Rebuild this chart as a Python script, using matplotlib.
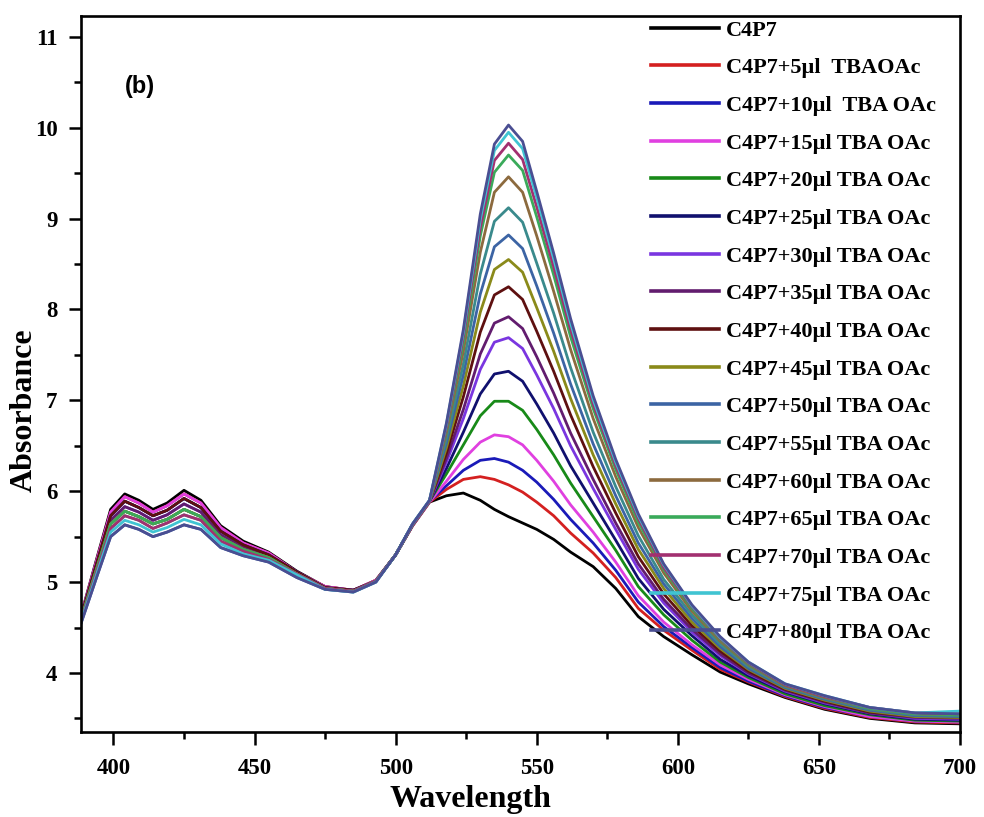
import matplotlib
matplotlib.use("Agg")
import matplotlib.pyplot as plt
from matplotlib.ticker import MultipleLocator

wavelength = [388, 394, 399, 404, 409, 414, 419, 425, 431, 438, 446, 455, 465, 475, 485, 493, 500, 506, 512,
              518, 524, 530, 535, 540, 545, 550, 556, 562, 570, 578, 586, 595, 605, 615, 625, 638, 652, 668, 684, 700]

c4p7 = [4.58, 5.25, 5.80, 5.97, 5.90, 5.80, 5.87, 6.01, 5.90, 5.62, 5.45, 5.33, 5.12, 4.95, 4.91, 5.02, 5.30, 5.62, 5.88,
        5.95, 5.98, 5.90, 5.80, 5.72, 5.65, 5.58, 5.47, 5.33, 5.17, 4.93, 4.62, 4.40, 4.20, 4.01, 3.88, 3.73, 3.60, 3.50, 3.45, 3.44]
tba05 = [4.57, 5.23, 5.77, 5.94, 5.87, 5.77, 5.84, 5.97, 5.87, 5.60, 5.43, 5.32, 5.11, 4.95, 4.91, 5.02, 5.30, 5.62, 5.88,
         6.02, 6.13, 6.16, 6.13, 6.07, 5.99, 5.88, 5.73, 5.54, 5.32, 5.05, 4.71, 4.47, 4.25, 4.04, 3.90, 3.74, 3.61, 3.51, 3.46, 3.45]
tba10 = [4.56, 5.20, 5.73, 5.89, 5.82, 5.73, 5.79, 5.92, 5.82, 5.56, 5.41, 5.30, 5.11, 4.94, 4.91, 5.01, 5.30, 5.63, 5.89,
         6.06, 6.23, 6.34, 6.36, 6.32, 6.23, 6.10, 5.91, 5.69, 5.43, 5.13, 4.78, 4.51, 4.28, 4.06, 3.91, 3.75, 3.62, 3.52, 3.47, 3.46]
tba15 = [4.57, 5.23, 5.77, 5.94, 5.87, 5.77, 5.84, 5.97, 5.87, 5.60, 5.43, 5.32, 5.11, 4.95, 4.91, 5.02, 5.30, 5.62, 5.88,
         6.11, 6.35, 6.54, 6.62, 6.60, 6.51, 6.34, 6.11, 5.85, 5.55, 5.22, 4.85, 4.56, 4.31, 4.09, 3.93, 3.76, 3.63, 3.52, 3.47, 3.46]
tba20 = [4.54, 5.14, 5.64, 5.78, 5.72, 5.64, 5.69, 5.80, 5.72, 5.49, 5.36, 5.27, 5.09, 4.93, 4.90, 5.01, 5.30, 5.63, 5.89,
         6.19, 6.51, 6.83, 6.99, 6.99, 6.89, 6.68, 6.40, 6.09, 5.72, 5.35, 4.95, 4.64, 4.36, 4.12, 3.95, 3.77, 3.64, 3.54, 3.48, 3.47]
tba25 = [4.56, 5.20, 5.73, 5.89, 5.82, 5.73, 5.79, 5.92, 5.82, 5.56, 5.41, 5.30, 5.11, 4.94, 4.91, 5.01, 5.30, 5.63, 5.89,
         6.25, 6.65, 7.07, 7.29, 7.32, 7.21, 6.96, 6.64, 6.28, 5.87, 5.46, 5.04, 4.70, 4.41, 4.15, 3.97, 3.79, 3.66, 3.55, 3.49, 3.48]
tba30 = [4.55, 5.17, 5.68, 5.83, 5.77, 5.68, 5.74, 5.86, 5.77, 5.52, 5.39, 5.29, 5.10, 4.94, 4.90, 5.01, 5.30, 5.63, 5.89,
         6.32, 6.80, 7.34, 7.64, 7.69, 7.57, 7.28, 6.91, 6.50, 6.03, 5.58, 5.14, 4.77, 4.45, 4.19, 3.99, 3.80, 3.67, 3.56, 3.50, 3.49]
tba35 = [4.55, 5.17, 5.68, 5.83, 5.77, 5.68, 5.74, 5.86, 5.77, 5.52, 5.39, 5.29, 5.10, 4.94, 4.90, 5.01, 5.30, 5.63, 5.89,
         6.36, 6.90, 7.51, 7.85, 7.92, 7.79, 7.48, 7.08, 6.64, 6.13, 5.65, 5.20, 4.81, 4.48, 4.21, 4.00, 3.81, 3.68, 3.56, 3.51, 3.50]
tba40 = [4.56, 5.20, 5.73, 5.89, 5.82, 5.73, 5.79, 5.92, 5.82, 5.56, 5.41, 5.30, 5.11, 4.94, 4.91, 5.01, 5.30, 5.63, 5.89,
         6.42, 7.04, 7.75, 8.16, 8.25, 8.11, 7.76, 7.32, 6.84, 6.27, 5.76, 5.28, 4.87, 4.52, 4.24, 4.02, 3.82, 3.69, 3.57, 3.52, 3.51]
tba45 = [4.54, 5.14, 5.64, 5.78, 5.72, 5.64, 5.69, 5.80, 5.72, 5.49, 5.36, 5.27, 5.09, 4.93, 4.90, 5.01, 5.30, 5.63, 5.89,
         6.48, 7.16, 7.97, 8.44, 8.55, 8.41, 8.02, 7.54, 7.02, 6.40, 5.86, 5.36, 4.93, 4.56, 4.27, 4.04, 3.83, 3.70, 3.58, 3.52, 3.51]
tba50 = [4.50, 5.05, 5.50, 5.63, 5.58, 5.50, 5.55, 5.63, 5.58, 5.38, 5.29, 5.22, 5.05, 4.92, 4.89, 5.00, 5.30, 5.64, 5.90,
         6.53, 7.28, 8.17, 8.69, 8.82, 8.67, 8.26, 7.74, 7.18, 6.52, 5.95, 5.43, 4.98, 4.60, 4.29, 4.05, 3.84, 3.71, 3.59, 3.53, 3.52]
tba55 = [4.52, 5.11, 5.59, 5.73, 5.68, 5.59, 5.65, 5.74, 5.68, 5.45, 5.34, 5.25, 5.09, 4.93, 4.90, 5.01, 5.30, 5.63, 5.89,
         6.58, 7.40, 8.39, 8.97, 9.12, 8.96, 8.51, 7.96, 7.36, 6.65, 6.05, 5.51, 5.03, 4.64, 4.32, 4.07, 3.85, 3.72, 3.60, 3.54, 3.53]
tba60 = [4.54, 5.14, 5.64, 5.78, 5.72, 5.64, 5.69, 5.80, 5.72, 5.49, 5.36, 5.27, 5.09, 4.93, 4.90, 5.01, 5.30, 5.63, 5.89,
         6.65, 7.54, 8.63, 9.29, 9.46, 9.29, 8.81, 8.20, 7.56, 6.80, 6.16, 5.60, 5.10, 4.68, 4.35, 4.09, 3.86, 3.73, 3.61, 3.55, 3.54]
tba65 = [4.54, 5.14, 5.64, 5.78, 5.72, 5.64, 5.69, 5.80, 5.72, 5.49, 5.36, 5.27, 5.09, 4.93, 4.90, 5.01, 5.30, 5.63, 5.89,
         6.69, 7.64, 8.81, 9.51, 9.70, 9.53, 9.02, 8.38, 7.70, 6.91, 6.24, 5.66, 5.14, 4.71, 4.37, 4.10, 3.87, 3.74, 3.61, 3.55, 3.54]
tba70 = [4.52, 5.11, 5.59, 5.73, 5.68, 5.59, 5.65, 5.74, 5.68, 5.45, 5.34, 5.25, 5.09, 4.93, 4.90, 5.01, 5.30, 5.63, 5.89,
         6.71, 7.70, 8.90, 9.64, 9.83, 9.65, 9.13, 8.47, 7.78, 6.96, 6.28, 5.70, 5.16, 4.73, 4.38, 4.11, 3.87, 3.74, 3.62, 3.56, 3.55]
tba75 = [4.51, 5.08, 5.55, 5.68, 5.63, 5.55, 5.60, 5.69, 5.63, 5.42, 5.31, 5.24, 5.08, 4.92, 4.89, 5.00, 5.30, 5.64, 5.90,
         6.74, 7.75, 8.99, 9.75, 9.95, 9.77, 9.23, 8.56, 7.85, 7.01, 6.32, 5.73, 5.19, 4.74, 4.39, 4.12, 3.88, 3.75, 3.62, 3.56, 3.58]
tba80 = [4.50, 5.05, 5.50, 5.63, 5.58, 5.50, 5.55, 5.63, 5.58, 5.38, 5.29, 5.22, 5.05, 4.92, 4.89, 5.00, 5.30, 5.64, 5.90,
         6.75, 7.78, 9.05, 9.82, 10.03, 9.85, 9.30, 8.62, 7.90, 7.05, 6.35, 5.75, 5.20, 4.75, 4.40, 4.12, 3.88, 3.75, 3.62, 3.56, 3.55]

series = [c4p7, tba05, tba10, tba15, tba20, tba25, tba30, tba35, tba40,
          tba45, tba50, tba55, tba60, tba65, tba70, tba75, tba80]
labels = ["C4P7", "C4P7+5\u00b5l  TBAOAc", "C4P7+10\u00b5l  TBA OAc", "C4P7+15\u00b5l TBA OAc",
          "C4P7+20\u00b5l TBA OAc", "C4P7+25\u00b5l TBA OAc", "C4P7+30\u00b5l TBA OAc", "C4P7+35\u00b5l TBA OAc",
          "C4P7+40\u00b5l TBA OAc", "C4P7+45\u00b5l TBA OAc", "C4P7+50\u00b5l TBA OAc", "C4P7+55\u00b5l TBA OAc",
          "C4P7+60\u00b5l TBA OAc", "C4P7+65\u00b5l TBA OAc", "C4P7+70\u00b5l TBA OAc", "C4P7+75\u00b5l TBA OAc",
          "C4P7+80\u00b5l TBA OAc"]
colors = ["#000000", "#d42020", "#1a1ab8", "#e040e0", "#188a18", "#10106e", "#7a36e0", "#621c6e",
          "#5e1010", "#8a8a1a", "#3c64a4", "#3a8a8c", "#8c6a3e", "#3aaa5a", "#a23070", "#40c4d2", "#4a4e92"]

serif = "Liberation Serif"

fig = plt.figure(figsize=(9.84, 8.17), dpi=100)
ax = fig.add_axes([81 / 984, 1 - 732 / 817, (960 - 81) / 984, (732 - 16) / 817])

for y, lab, c in zip(series, labels, colors):
    ax.plot(wavelength, y, color=c, lw=2.0, label=lab)

ax.set_xlim(388.5, 700)
ax.set_ylim(3.35, 11.23)
ax.xaxis.set_major_locator(MultipleLocator(50))
ax.xaxis.set_minor_locator(MultipleLocator(25))
ax.yaxis.set_major_locator(MultipleLocator(1))
ax.yaxis.set_minor_locator(MultipleLocator(0.5))
ax.tick_params(which="both", direction="out", width=1.8, top=False, right=False)
ax.tick_params(which="major", length=9)
ax.tick_params(which="minor", length=5)
ax.tick_params(axis="y", which="major", pad=8)
ax.tick_params(axis="x", which="major", pad=10)
for lab in ax.get_xticklabels() + ax.get_yticklabels():
    lab.set_fontfamily(serif)
    lab.set_fontweight("bold")
    lab.set_fontsize(16.5)
for sp in ax.spines.values():
    sp.set_linewidth(1.9)

fig.text(24 / 984, 1 - 410 / 817, "Absorbance", rotation=90, ha="center", va="center",
         fontsize=23, fontweight="bold", family=serif)
fig.text(470 / 984, 1 - 800 / 817, "Wavelength", ha="center", va="center",
         fontsize=23, fontweight="bold", family=serif)
fig.text(140 / 984, 1 - 86 / 817, "(b)", ha="center", va="center",
         fontsize=17, fontweight="bold", family="Liberation Sans")

leg = ax.legend(loc="upper left", bbox_to_anchor=(651 / 984, 1 - 20 / 817),
                bbox_transform=fig.transFigure, frameon=False, borderpad=0, borderaxespad=0,
                handlelength=3.05, handletextpad=0.32, labelspacing=0.77,
                prop={"family": serif, "weight": "bold", "size": 16})
for h in leg.get_lines():
    h.set_linewidth(2.6)

fig.savefig("out.png", dpi=100)
